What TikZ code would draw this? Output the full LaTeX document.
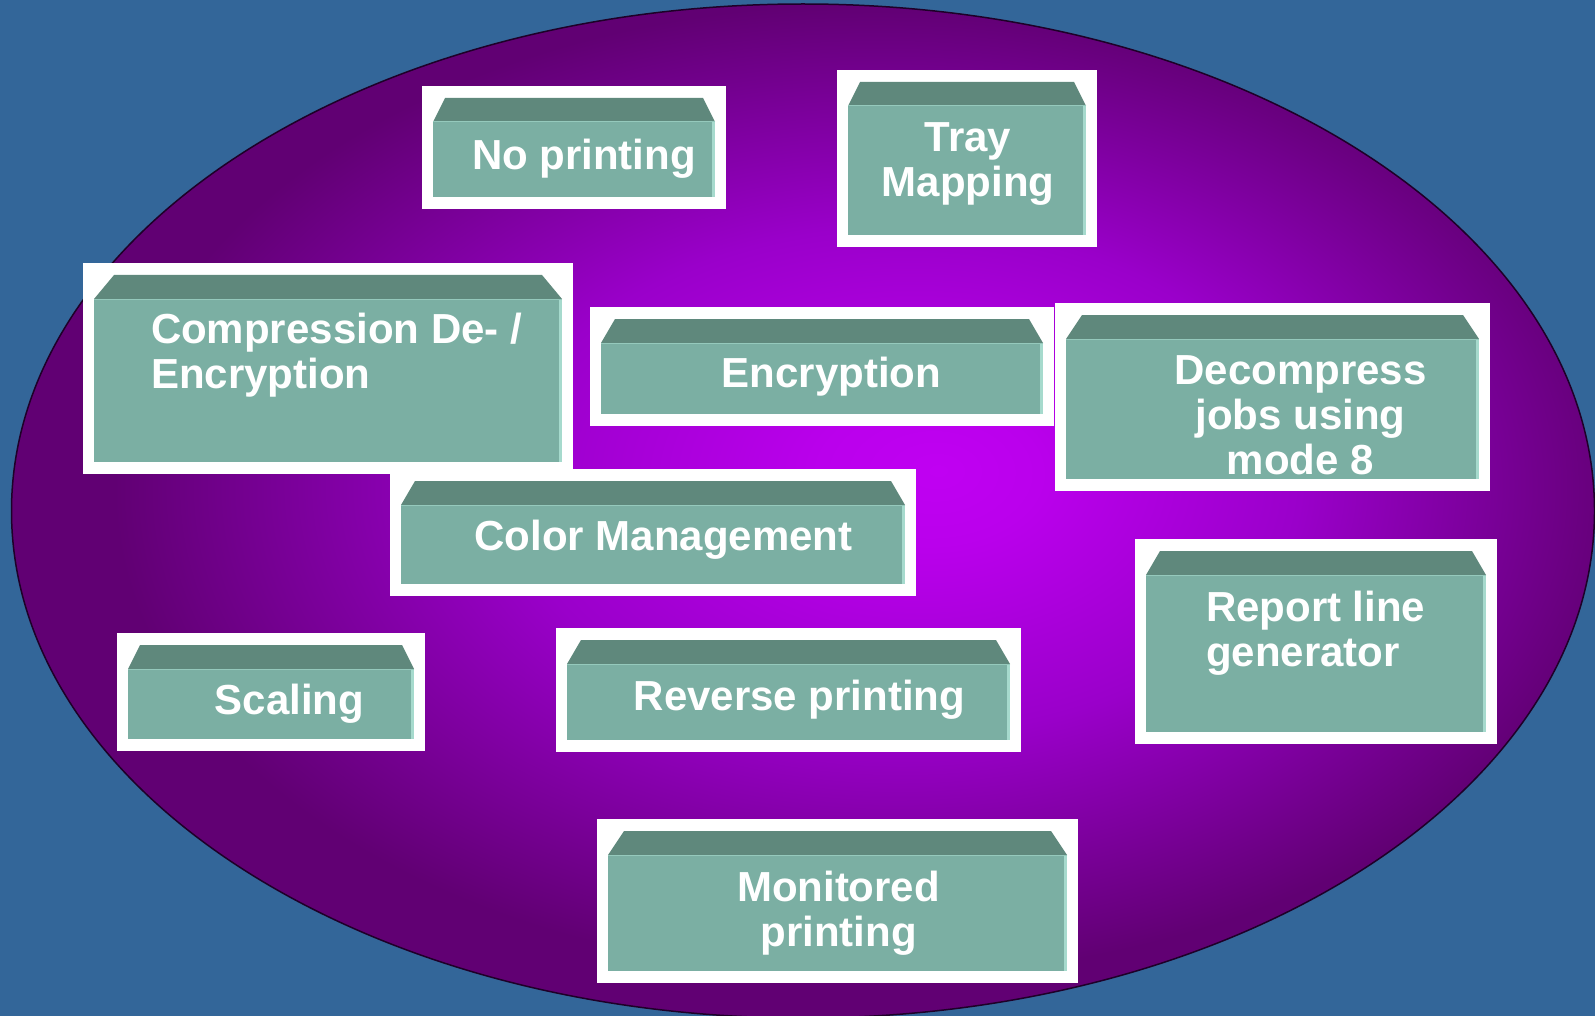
\documentclass[tikz,border=0pt]{standalone}
\usepackage{fontspec}
\setmainfont{Liberation Sans}
\definecolor{bgblue}{HTML}{336699}
\definecolor{pcenter}{HTML}{C000F2}
\definecolor{pinner}{HTML}{BA00EC}
\definecolor{pmid}{HTML}{9A00CA}
\definecolor{pedge}{HTML}{610073}
\definecolor{rimcol}{HTML}{1E0028}
\definecolor{boxtop}{HTML}{5F887C}
\definecolor{boxbody}{HTML}{7BAFA3}
\definecolor{boxedge}{HTML}{A6DACD}
\pgfdeclareradialshading{purplerad}{\pgfpoint{4.3bp}{2bp}}{color(0bp)=(pcenter); color(3.5bp)=(pinner); color(12.5bp)=(pmid); color(24bp)=(pedge); color(50bp)=(pedge)}
\newcommand\tealbox[2]{%
  \fill[boxtop] ([xshift={(11+#2)*1pt}, yshift=-12pt]#1.north west) -- ([xshift={(-11-#2)*1pt}, yshift=-12pt]#1.north east) -- ([xshift=-11pt, yshift=-36pt]#1.north east) -- ([xshift=11pt, yshift=-36pt]#1.north west) -- cycle;
  \fill[boxbody] ([xshift=11pt, yshift=-36pt]#1.north west) rectangle ([xshift=-11pt, yshift=12pt]#1.south east);
  \fill[boxedge] ([xshift=-14pt, yshift=-36pt]#1.north east) rectangle ([xshift=-11pt, yshift=12pt]#1.south east);
  \draw[boxedge!60!boxbody, line width=1pt] ([xshift=11pt, yshift=-36pt]#1.north west) -- ([xshift=-11pt, yshift=-36pt]#1.north east);
}
\begin{document}
\begin{tikzpicture}[x=1pt, y=-1pt,
  frame/.style={fill=white, inner sep=0pt, outer sep=0pt},
  lbl/.style={text=white, font=\fontsize{42}{45}\selectfont\bfseries, inner sep=0pt, outer sep=0pt, align=center}]
  \useasboundingbox (0,0) rectangle (1595,1016);
  \fill[bgblue] (0,0) rectangle (1595,1016);
  \path[shading=purplerad, draw=rimcol, line width=1.5pt] (803,511) ellipse [x radius=791.5, y radius=507];

  % white frames
  \node[frame, minimum width=304pt, minimum height=123pt] (f1) at (574,147.5) {};
  \node[frame, minimum width=260pt, minimum height=177pt] (f2) at (967,158.5) {};
  \node[frame, minimum width=490pt, minimum height=211pt] (f3) at (328,368.5) {};
  \node[frame, minimum width=464pt, minimum height=119pt] (f4) at (822,366.5) {};
  \node[frame, minimum width=435pt, minimum height=188pt] (f5) at (1272.5,397) {};
  \node[frame, minimum width=526pt, minimum height=127pt] (f6) at (653,532.5) {};
  \node[frame, minimum width=308pt, minimum height=118pt] (f7) at (271,692) {};
  \node[frame, minimum width=465pt, minimum height=124pt] (f8) at (788.5,690) {};
  \node[frame, minimum width=362pt, minimum height=205pt] (f9) at (1316,641.5) {};
  \node[frame, minimum width=481pt, minimum height=164pt] (f10) at (837.5,901) {};

  % teal boxes
  \tealbox{f1}{12}
  \tealbox{f2}{12}
  \tealbox{f3}{20}
  \tealbox{f4}{14}
  \tealbox{f5}{16}
  \tealbox{f6}{14}
  \tealbox{f7}{12}
  \tealbox{f8}{14}
  \tealbox{f9}{14}
  \tealbox{f10}{16}

  % labels
  \node[lbl] (t1) at (584,159) {No printing};
  \node[lbl] (t2) at (968,164) {Tray\\Mapping};
  \node[lbl, anchor=west, align=left] (t3) at (151,355.5) {Compression De- /\\Encryption};
  \node[lbl] (t4) at (831.5,377) {Encryption};
  \node[lbl] (t5) at (1300.5,415) {Decompress\\jobs using\\mode 8};
  \node[lbl] (t6) at (663.5,540) {Color Management};
  \node[lbl] (t7) at (289.5,704) {Scaling};
  \node[lbl] (t8) at (799.5,699.5) {Reverse printing};
  \node[lbl, anchor=west, align=left] (t9) at (1206,633.5) {Report line\\generator};
  \node[lbl] (t10) at (838.5,913) {Monitored\\printing};
\end{tikzpicture}
\end{document}
